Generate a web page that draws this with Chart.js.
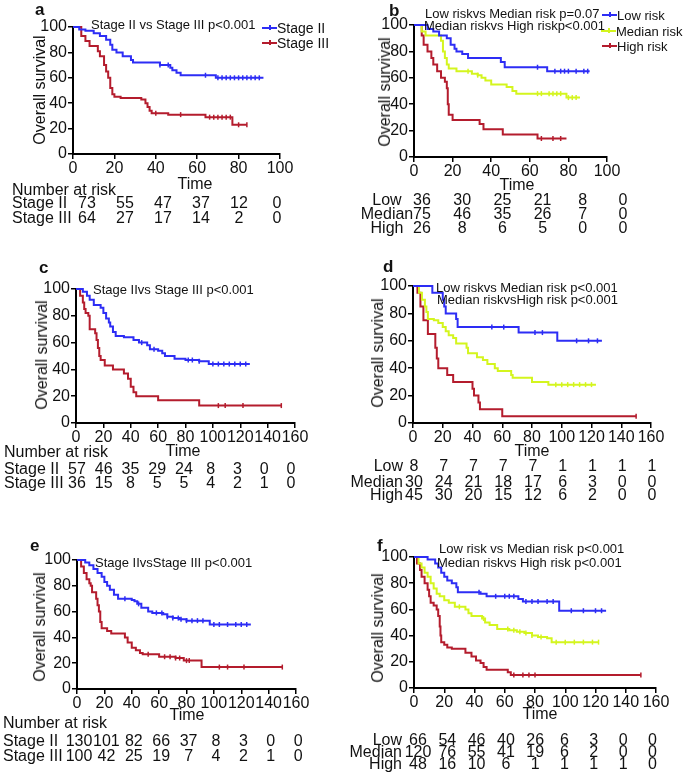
<!DOCTYPE html>
<html>
<head>
<meta charset="utf-8">
<script src="https://cdn.jsdelivr.net/npm/chart.js@4.4.0/dist/chart.umd.min.js"></script>
<style>
body { margin: 0; background: #fff; }
#fig { position: relative; width: 685px; height: 778px; overflow: hidden; font-family: "Liberation Sans", Arial, sans-serif; color: #111; }
#fig canvas { position: absolute; }
.t { position: absolute; white-space: nowrap; line-height: 1; }
</style>
</head>
<body>
<div id="fig"></div>
<script>
// axis ticks
const yTicks = [0, 20, 40, 60, 80, 100];
const xTicks100 = [0, 20, 40, 60, 80, 100];
const xTicks160 = [0, 20, 40, 60, 80, 100, 120, 140, 160];

// a: stage, cohort 1
const aIIT = [0, 3, 6, 10, 13, 16, 18, 19, 21, 24, 28, 29, 42, 47, 48, 50, 52, 69, 92];
const aIIS = [100, 98, 97, 95, 93, 90, 86, 82, 80, 77, 74, 72, 70, 68, 66, 64, 62, 60, 60];
const aIIC = [42, 46, 64, 70, 72, 74, 76, 78, 80, 82, 84, 86, 88, 90];
const aIIIT = [0, 3, 4, 6, 8, 12, 13, 15, 16, 17, 18, 19, 20, 23, 33, 35, 36, 37, 38, 46, 64, 77, 84];
const aIIIS = [100, 100, 93, 89, 85, 81, 77, 70, 65, 60, 52, 47, 45, 44, 43, 40, 37, 34, 32, 31, 29, 23, 23];
const aIIIC = [40, 52, 66, 68, 70, 72, 74, 76, 80, 84];
const aRiskII = [73, 55, 47, 37, 12, 0];
const aRiskIII = [64, 27, 17, 14, 2, 0];

// b: risk, cohort 1
const bLowT = [0, 7, 10, 13, 17, 19, 21, 22, 25, 28, 45, 47, 69, 91];
const bLowS = [100, 97, 95, 92, 90, 85, 82, 80, 78, 75, 72, 68, 65, 65];
const bLowC = [64, 73, 76, 78, 80, 84, 88, 90];
const bMedT = [0, 3, 4, 6, 14, 15, 16, 17, 18, 22, 30, 33, 35, 37, 40, 48, 51, 53, 79, 86];
const bMedS = [100, 100, 95, 92, 88, 80, 75, 70, 67, 65, 63, 62, 60, 58, 55, 53, 50, 48, 45, 45];
const bMedC = [28, 33, 64, 66, 70, 72, 74, 76, 80, 82, 84];
const bHighT = [0, 4, 5, 7, 9, 10, 12, 14, 16, 17, 17.5, 18, 20, 34, 36, 46, 64, 79];
const bHighS = [100, 92, 85, 80, 75, 70, 65, 60, 57, 52, 40, 32, 28, 25, 21, 17, 14, 14];
const bHighC = [66, 72, 76];
const bRiskLow = [36, 30, 25, 21, 8, 0];
const bRiskMed = [75, 46, 35, 26, 7, 0];
const bRiskHigh = [26, 8, 6, 5, 0, 0];

// c: stage, cohort 2
const cIIT = [0, 3, 5, 8, 10, 13, 18, 20, 22, 24, 25, 27, 29, 35, 42, 46, 52, 54, 60, 63, 65, 72, 80, 90, 97, 127];
const cIIS = [100, 100, 98, 95, 92, 88, 86, 82, 78, 75, 72, 68, 65, 64, 62, 60, 58, 55, 54, 52, 50, 48, 47, 46, 44, 44];
const cIIC = [48, 57, 82, 85, 90, 100, 104, 108, 112, 116, 120, 124];
const cIIIT = [0, 2, 3, 5, 6, 7, 9, 10, 14, 15, 16, 17, 18, 21, 27, 35, 38, 40, 42, 44, 60, 90, 150];
const cIIIS = [100, 100, 95, 90, 85, 82, 80, 70, 67, 62, 56, 50, 47, 43, 40, 37, 33, 27, 23, 20, 17, 13, 13];
const cIIIC = [104, 109, 122, 150];
const cRiskII = [57, 46, 35, 29, 24, 8, 3, 0, 0];
const cRiskIII = [36, 15, 8, 5, 5, 4, 2, 1, 0];

// d: risk, cohort 2
const dLowT = [0, 13, 20, 21, 22, 29, 30, 71, 97, 127];
const dLowS = [100, 95, 90, 85, 80, 76, 70, 66, 60, 60];
const dLowC = [53, 61, 82, 87, 110, 118, 124];
const dMedT = [0, 4, 6, 8, 9, 10, 14, 17, 20, 22, 24, 27, 29, 36, 37, 43, 47, 50, 55, 57, 66, 67, 80, 91, 123];
const dMedS = [100, 95, 90, 85, 81, 76, 75, 73, 70, 67, 64, 62, 58, 55, 51, 48, 46, 43, 40, 38, 35, 33, 30, 28, 28];
const dMedC = [96, 100, 104, 108, 112, 116, 120];
const dHighT = [0, 3, 5, 7, 10, 15, 16, 17, 23, 27, 40, 41, 44, 45, 60, 150];
const dHighS = [100, 95, 85, 75, 65, 55, 47, 40, 35, 30, 25, 20, 15, 10, 5, 5];
const dHighC = [150];
const dRiskLow = [8, 7, 7, 7, 7, 1, 1, 1, 1];
const dRiskMed = [30, 24, 21, 18, 17, 6, 3, 0, 0];
const dRiskHigh = [45, 30, 20, 15, 12, 6, 2, 0, 0];

// e: stage, combined
const eIIT = [0, 3, 6, 9, 12, 15, 18, 20, 22, 24, 27, 30, 40, 42, 44, 47, 52, 55, 63, 66, 70, 75, 80, 97, 127];
const eIIS = [100, 100, 98, 96, 93, 90, 87, 83, 80, 77, 73, 70, 69, 68, 66, 63, 60, 59, 58, 56, 55, 54, 53, 50, 50];
const eIIC = [35, 45, 58, 62, 66, 70, 74, 76, 80, 84, 88, 92, 100, 104, 110, 116, 120, 124];
const eIIIT = [0, 2, 3, 5, 7, 9, 10, 11, 14, 15, 16, 17, 18, 22, 25, 35, 37, 40, 43, 46, 48, 60, 72, 78, 91, 150];
const eIIIS = [100, 100, 95, 90, 85, 82, 80, 75, 70, 65, 60, 52, 47, 45, 43, 40, 36, 32, 30, 28, 27, 25, 24, 22, 17, 17];
const eIIIC = [52, 64, 68, 72, 75, 80, 82, 104, 110, 122, 150];
const eRiskII = [130, 101, 82, 66, 37, 8, 3, 0, 0];
const eRiskIII = [100, 42, 25, 19, 7, 4, 2, 1, 0];

// f: risk, combined
const fLowT = [0, 9, 14, 16, 18, 20, 22, 25, 28, 29, 44, 48, 69, 72, 96, 127];
const fLowS = [100, 98, 95, 92, 88, 85, 82, 80, 77, 73, 72, 70, 68, 66, 59, 59];
const fLowC = [43, 54, 60, 63, 66, 74, 78, 82, 88, 92, 104, 112, 120, 124];
const fMedT = [0, 2, 3, 5, 7, 9, 11, 13, 15, 17, 20, 23, 27, 34, 36, 38, 45, 47, 50, 55, 63, 68, 73, 78, 82, 88, 91, 122];
const fMedS = [100, 100, 95, 92, 88, 85, 80, 76, 72, 70, 67, 65, 62, 60, 57, 55, 53, 50, 48, 45, 44, 43, 42, 40, 39, 38, 35, 35];
const fMedC = [30, 46, 62, 66, 70, 74, 78, 84, 94, 100, 106, 112, 118, 122];
const fHighT = [0, 2, 4, 5, 7, 9, 10, 11, 13, 15, 16, 17, 17.5, 18, 20, 22, 25, 34, 38, 41, 44, 46, 48, 62, 64, 150];
const fHighS = [100, 95, 90, 85, 80, 75, 70, 65, 63, 60, 55, 47, 40, 35, 33, 31, 30, 27, 24, 21, 19, 16, 14, 12, 10, 10];
const fHighC = [66, 72, 76, 80, 150];
const fRiskLow = [66, 54, 46, 40, 26, 6, 3, 0, 0];
const fRiskMed = [120, 76, 55, 41, 19, 6, 2, 0, 0];
const fRiskHigh = [48, 16, 10, 6, 1, 1, 1, 1, 0];

const BLUE = 'rgb(45, 45, 245)';
const RED = 'rgb(180, 28, 45)';
const YEL = 'rgb(212, 245, 30)';
const FONT = '"Liberation Sans", Arial, sans-serif';

const AXW = 45, AXH = 28, PADT = 12, PADR = 16;
const fig = document.getElementById('fig');

function txt(s, x, y, o) {
    o = o || {};
    const d = document.createElement('div');
    d.className = 't';
    d.textContent = s;
    d.style.left = x + 'px';
    d.style.top = y + 'px';
    d.style.fontSize = (o.size || 16) + 'px';
    if (o.bold) d.style.fontWeight = 'bold';
    let tx = '0';
    if (o.align == 'center') tx = '-50%';
    if (o.align == 'right') tx = '-100%';
    d.style.transform = 'translate(' + tx + ', -50%)' + (o.rot ? ' rotate(-90deg)' : '');
    fig.appendChild(d);
}

function legendLine(x, y, color) {
    const d = document.createElement('div');
    d.style.cssText = 'position:absolute;left:' + x + 'px;top:' + (y - 1) + 'px;width:15px;height:2px;background:' + color;
    fig.appendChild(d);
    const k = document.createElement('div');
    k.style.cssText = 'position:absolute;left:' + (x + 7) + 'px;top:' + (y - 3) + 'px;width:1.5px;height:5px;background:' + color;
    fig.appendChild(k);
}

function survAt(T, S, t) {
    let v = S[0];
    for (let i = 0; i < T.length; i++) {
        if (T[i] <= t) v = S[i];
    }
    return v;
}

function makePanel(p) {
    const cv = document.createElement('canvas');
    const w = p.R - p.L + AXW + PADR, h = p.B - p.T + PADT + AXH;
    cv.width = w; cv.height = h;
    cv.style.left = (p.L - AXW) + 'px';
    cv.style.top = (p.T - PADT) + 'px';
    cv.style.width = w + 'px';
    cv.style.height = h + 'px';
    fig.appendChild(cv);

    let datasets = [];
    p.curves.forEach(c => {
        datasets.push({
            data: c.t.map((t, i) => ({ x: t, y: c.s[i] })),
            borderColor: c.color, borderWidth: 2, stepped: true,
            pointRadius: 0, fill: false, clip: false
        });
        datasets.push({
            data: c.cens.map(t => ({ x: t, y: survAt(c.t, c.s, t) })),
            showLine: false, pointStyle: 'line', rotation: 90, pointRadius: 2.5,
            borderColor: c.color, backgroundColor: c.color, borderWidth: 1.5, clip: false
        });
    });

    const axisGrid = { drawOnChartArea: false, color: '#000', lineWidth: 1.5, tickLength: 5 };
    const axisBorder = { color: '#000', width: 2 };
    const tickFont = { family: FONT, size: 16 };

    new Chart(cv, {
        type: 'line',
        data: { datasets: datasets },
        options: {
            responsive: false,
            animation: false,
            events: [],
            layout: { padding: { left: 0, top: PADT, right: PADR, bottom: 0 } },
            plugins: { legend: { display: false }, tooltip: { enabled: false } },
            scales: {
                x: {
                    type: 'linear', min: 0, max: p.xTicks[p.xTicks.length - 1],
                    afterBuildTicks: s => { s.ticks = p.xTicks.map(v => ({ value: v })); },
                    afterFit: s => { s.height = AXH; },
                    grid: axisGrid, border: axisBorder,
                    ticks: { font: tickFont, color: '#111', padding: 0, autoSkip: false, maxRotation: 0 }
                },
                y: {
                    type: 'linear', min: 0, max: 100,
                    afterBuildTicks: s => { s.ticks = yTicks.map(v => ({ value: v })); },
                    afterFit: s => { s.width = AXW; },
                    grid: axisGrid, border: axisBorder,
                    ticks: { font: tickFont, color: '#111', padding: 1 }
                }
            }
        }
    });

    // texts round the plot
    txt(p.letter, p.letterX, p.letterY, { bold: true, size: 17 });
    p.notes.forEach(n => txt(n[0], n[1], n[2], { size: 13 }));
    (p.legend || []).forEach(l => {
        legendLine(l.x, l.y, l.color);
        txt(l.label, l.x + 15, l.y, { size: p.legendSize });
    });
    txt('Overall survival', p.ylab[0], p.ylab[1], { align: 'center', rot: true, size: 16 });
    txt('Time', p.time[0], p.time[1], { align: 'center', size: 16 });
    if (p.header) txt('Number at risk', p.header[0], p.header[1], { size: 16 });
    p.rows.forEach((r, k) => {
        txt(r.label, p.rowX, p.rowY[k], { align: p.rowAlign, size: 16 });
        r.vals.forEach((v, i) => {
            txt(String(v), p.col0 + i * p.colStep, p.rowY[k], { align: 'center', size: 16 });
        });
    });
}

const panels = [
    {
        letter: 'a', letterX: 35, letterY: 9, L: 73, T: 27, R: 280, B: 154, xTicks: xTicks100,
        curves: [
            { t: aIIT, s: aIIS, cens: aIIC, color: BLUE },
            { t: aIIIT, s: aIIIS, cens: aIIIC, color: RED }
        ],
        notes: [['Stage II vs Stage III p<0.001', 91, 24]],
        legend: [
            { label: 'Stage II', color: BLUE, x: 262, y: 28 },
            { label: 'Stage III', color: RED, x: 262, y: 43 }
        ],
        legendSize: 14,
        ylab: [40, 90], time: [195, 184], header: [12, 190],
        rows: [{ label: 'Stage II', vals: aRiskII }, { label: 'Stage III', vals: aRiskIII }],
        rowX: 12, rowAlign: 'left', rowY: [203, 218], col0: 87, colStep: 38
    },
    {
        letter: 'b', letterX: 389, letterY: 10, L: 414, T: 25, R: 607, B: 157, xTicks: xTicks100,
        curves: [
            { t: bLowT, s: bLowS, cens: bLowC, color: BLUE },
            { t: bMedT, s: bMedS, cens: bMedC, color: YEL },
            { t: bHighT, s: bHighS, cens: bHighC, color: RED }
        ],
        notes: [['Low riskvs Median risk p=0.07', 425, 13], ['Median riskvs High riskp<0.001', 424, 25]],
        legend: [
            { label: 'Low risk', color: BLUE, x: 602, y: 15 },
            { label: 'Median risk', color: YEL, x: 601, y: 31 },
            { label: 'High risk', color: RED, x: 602, y: 46 }
        ],
        legendSize: 13,
        ylab: [385, 92], time: [517, 185], header: null,
        rows: [{ label: 'Low', vals: bRiskLow }, { label: 'Median', vals: bRiskMed }, { label: 'High', vals: bRiskHigh }],
        rowX: 387, rowAlign: 'center', rowY: [200, 214, 228], col0: 422, colStep: 40.2
    },
    {
        letter: 'c', letterX: 39, letterY: 267, L: 76, T: 289, R: 295, B: 423, xTicks: xTicks160,
        curves: [
            { t: cIIT, s: cIIS, cens: cIIC, color: BLUE },
            { t: cIIIT, s: cIIIS, cens: cIIIC, color: RED }
        ],
        notes: [['Stage IIvs Stage III p<0.001', 93, 289]],
        ylab: [42, 355], time: [183, 451], header: [4, 452],
        rows: [{ label: 'Stage II', vals: cRiskII }, { label: 'Stage III', vals: cRiskIII }],
        rowX: 4, rowAlign: 'left', rowY: [469, 483], col0: 77, colStep: 26.75
    },
    {
        letter: 'd', letterX: 383, letterY: 266, L: 413, T: 286, R: 651, B: 423, xTicks: xTicks160,
        curves: [
            { t: dLowT, s: dLowS, cens: dLowC, color: BLUE },
            { t: dMedT, s: dMedS, cens: dMedC, color: YEL },
            { t: dHighT, s: dHighS, cens: dHighC, color: RED }
        ],
        notes: [['Low riskvs Median risk p<0.001', 436, 287], ['Median riskvsHigh risk p<0.001', 437, 299]],
        ylab: [378, 353], time: [532, 451], header: null,
        rows: [{ label: 'Low', vals: dRiskLow }, { label: 'Median', vals: dRiskMed }, { label: 'High', vals: dRiskHigh }],
        rowX: 403, rowAlign: 'right', rowY: [466, 482, 495], col0: 414, colStep: 29.75
    },
    {
        letter: 'e', letterX: 30, letterY: 545, L: 77, T: 560, R: 296, B: 689, xTicks: xTicks160,
        curves: [
            { t: eIIT, s: eIIS, cens: eIIC, color: BLUE },
            { t: eIIIT, s: eIIIS, cens: eIIIC, color: RED }
        ],
        notes: [['Stage IIvsStage III p<0.001', 95, 562]],
        ylab: [40, 627], time: [187, 715], header: [3, 723],
        rows: [{ label: 'Stage II', vals: eRiskII }, { label: 'Stage III', vals: eRiskIII }],
        rowX: 3, rowAlign: 'left', rowY: [741, 756], col0: 79, colStep: 27.4
    },
    {
        letter: 'f', letterX: 377, letterY: 545, L: 414, T: 557, R: 656, B: 688, xTicks: xTicks160,
        curves: [
            { t: fLowT, s: fLowS, cens: fLowC, color: BLUE },
            { t: fMedT, s: fMedS, cens: fMedC, color: YEL },
            { t: fHighT, s: fHighS, cens: fHighC, color: RED }
        ],
        notes: [['Low risk vs Median risk p<0.001', 439, 548], ['Median riskvs High risk p<0.001', 437, 562]],
        ylab: [378, 628], time: [540, 714], header: null,
        rows: [{ label: 'Low', vals: fRiskLow }, { label: 'Median', vals: fRiskMed }, { label: 'High', vals: fRiskHigh }],
        rowX: 402, rowAlign: 'right', rowY: [740, 752, 764], col0: 418, colStep: 29.3
    }
];

window.onload = function () {
    panels.forEach(makePanel);
};
</script>
</body>
</html>
